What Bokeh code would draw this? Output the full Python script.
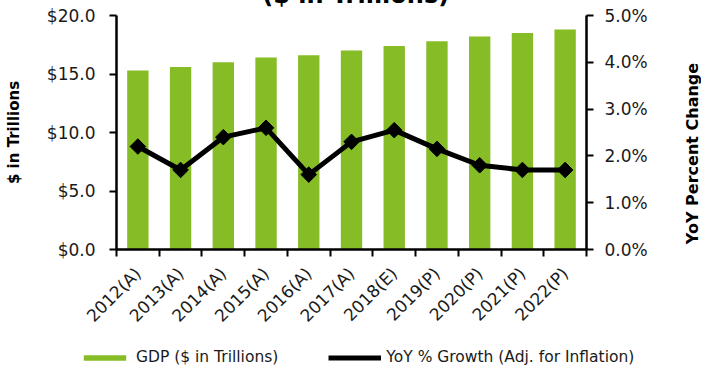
import math
from bokeh.plotting import figure
from bokeh.layouts import column, row
from bokeh.models import (Range1d, LinearAxis, FixedTicker, PrintfTickFormatter,
                          Title, Label, Legend, LegendItem, ColumnDataSource)
from bokeh.embed import file_html
from bokeh.resources import INLINE

# Real GDP and year-over-year growth, actuals (A), estimate (E), projections (P)
years = ["2012(A)", "2013(A)", "2014(A)", "2015(A)", "2016(A)", "2017(A)",
         "2018(E)", "2019(P)", "2020(P)", "2021(P)", "2022(P)"]
gdp_trillions = [15.3, 15.6, 16.0, 16.4, 16.6, 17.0, 17.4, 17.8, 18.2, 18.5, 18.8]
yoy_growth_pct = [2.2, 1.7, 2.4, 2.6, 1.6, 2.3, 2.55, 2.15, 1.8, 1.7, 1.7]

left_ticks = [0, 5, 10, 15, 20]
right_ticks = [0, 1, 2, 3, 4, 5]

FONT = "DejaVu Sans"
GREEN = "#86BC25"
TXT = "#1a1a1a"
SHIFT = 40      # the top of the chart canvas sits above the page edge
LEGEND_H = 35   # height of the legend strip under the chart
SIDE_W = 21     # strip on the right holding the secondary axis title
CHART_H = 370 - LEGEND_H + SHIFT

xs = [i + 0.5 for i in range(len(years))]
src = ColumnDataSource(dict(x=xs, gdp=gdp_trillions, yoy=yoy_growth_pct))


def bare(fig):
    fig.outline_line_color = None
    fig.grid.visible = False
    fig.background_fill_color = "white"
    fig.border_fill_color = "white"
    fig.frame_align = False


p = figure(width=701 - SIDE_W, height=CHART_H, output_backend="svg", toolbar_location=None,
           x_range=Range1d(0, len(years)), y_range=Range1d(0, 20),
           min_border_left=116, min_border_right=115 - SIDE_W,
           min_border_top=15 + SHIFT, min_border_bottom=370 - LEGEND_H - 249,
           x_axis_location=None, y_axis_location=None)
bare(p)
p.extra_y_ranges = {"pct": Range1d(0, 5)}

p.add_layout(Title(text="\u00a0($ in Trillions)", align="center", standoff=14,
                   text_font=FONT, text_font_style="bold", text_font_size="24px",
                   text_color="black"), "above")

# category axis: labels at centres, tick marks on the boundaries
xaxis = LinearAxis(ticker=FixedTicker(ticks=xs, minor_ticks=list(range(len(years) + 1))),
                   major_label_overrides={x: y for x, y in zip(xs, years)})
xaxis.major_tick_out = 0
xaxis.major_tick_in = 0
xaxis.minor_tick_out = 7
xaxis.minor_tick_in = 0
xaxis.minor_tick_line_color = "black"
xaxis.minor_tick_line_width = 2
xaxis.axis_line_width = 2.5
xaxis.major_label_orientation = math.pi / 4
xaxis.major_label_text_font = FONT
xaxis.major_label_text_font_size = "17px"
xaxis.major_label_text_color = TXT
xaxis.major_label_standoff = 14
p.add_layout(xaxis, "below")

laxis = LinearAxis(ticker=FixedTicker(ticks=left_ticks),
                   formatter=PrintfTickFormatter(format="$%.1f"),
                   axis_label="$ in Trillions")
raxis = LinearAxis(y_range_name="pct", ticker=FixedTicker(ticks=right_ticks),
                   formatter=PrintfTickFormatter(format="%.1f%%"))
for ax in (laxis, raxis):
    ax.major_tick_out = 7
    ax.major_tick_in = 0
    ax.major_tick_line_width = 2
    ax.minor_tick_line_color = None
    ax.axis_line_width = 2.5
    ax.major_label_text_font = FONT
    ax.major_label_text_font_size = "17px"
    ax.major_label_text_color = TXT
laxis.axis_label_text_font = FONT
laxis.axis_label_text_font_style = "bold"
laxis.axis_label_text_font_size = "15px"
laxis.axis_label_text_color = "black"
laxis.major_label_standoff = 14
laxis.axis_label_standoff = 21
raxis.major_label_standoff = 11
p.add_layout(laxis, "left")
p.add_layout(raxis, "right")

p.vbar(x="x", top="gdp", width=0.5, source=src, fill_color=GREEN, line_color=None)
p.line(x="x", y="yoy", source=src, y_range_name="pct", line_color="black", line_width=5)
p.scatter(x="x", y="yoy", source=src, y_range_name="pct", marker="square",
          angle=math.pi / 4, size=11, fill_color="black", line_color="black")

# secondary axis title, reading bottom to top
side = figure(width=SIDE_W, height=CHART_H, output_backend="svg", toolbar_location=None,
              x_range=Range1d(0, SIDE_W), y_range=Range1d(0, CHART_H),
              min_border_left=0, min_border_right=0, min_border_top=0, min_border_bottom=0,
              x_axis_location=None, y_axis_location=None)
bare(side)
side.add_layout(Label(x=11.5, y=CHART_H - SHIFT - 153, text="YoY Percent Change",
                      angle=math.pi / 2, text_font=FONT, text_font_style="bold",
                      text_font_size="16px", text_align="center", text_baseline="middle",
                      text_color="black"))

# legend strip: swatches reuse the series styles; the data lies outside its view
lg = figure(width=701, height=LEGEND_H, output_backend="svg", toolbar_location=None,
            x_range=Range1d(100, 101), y_range=Range1d(100, 101),
            min_border_left=0, min_border_right=0, min_border_top=0, min_border_bottom=0,
            x_axis_location=None, y_axis_location=None)
bare(lg)
sw_bar = lg.vbar(x="x", top="gdp", width=0.5, source=src, fill_color=GREEN, line_color=None)
sw_line = lg.line(x="x", y="yoy", source=src, line_color="black", line_width=5)
sw_pts = lg.scatter(x="x", y="yoy", source=src, marker="square", angle=math.pi / 4,
                    size=11, fill_color="black", line_color="black")
legend = Legend(items=[LegendItem(label="GDP ($ in Trillions)", renderers=[sw_bar]),
                       LegendItem(label="YoY % Growth (Adj. for Inflation)",
                                  renderers=[sw_line, sw_pts])],
                orientation="horizontal", location=(78, 4),
                glyph_width=53, glyph_height=7, label_standoff=5, spacing=50,
                padding=2, margin=0, border_line_color=None, background_fill_alpha=0,
                label_text_font=FONT, label_text_font_size="15.5px", label_text_color=TXT)
lg.add_layout(legend, "center")

page = column(row(p, side, spacing=0), lg, spacing=0)
page.styles = {"margin-top": f"-{SHIFT}px"}
open("out.html", "w").write(file_html(page, INLINE))
